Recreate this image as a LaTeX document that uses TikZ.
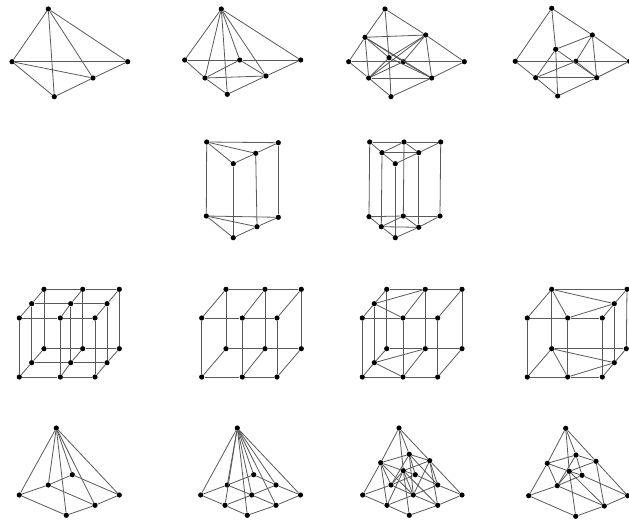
\documentclass[tikz,border=0pt]{standalone}
\tikzset{
  dot/.style={circle,fill=black,draw=none,inner sep=0pt,minimum size=3.9pt},
  edge/.style={line width=0.6pt,color=black!65}
}
\newcommand{\Vx}[3]{\node[dot] (#1) at (#2,#3) {};}
\newcommand{\Ed}[1]{\foreach \p/\q in {#1} {\draw[edge] (\p) -- (\q);}}
\begin{document}
\begin{tikzpicture}[x=0.75pt,y=-0.75pt]
\useasboundingbox (0,0) rectangle (629,521);
% --- row 1, graph 1
\Vx{Aa}{48.3}{9}\Vx{Al}{12}{61.7}\Vx{Ar}{127.7}{61.7}\Vx{Am}{93}{78}\Vx{Ab}{54.3}{96.7}
\Ed{Aa/Al,Aa/Ar,Aa/Am,Aa/Ab,Al/Ar,Al/Am,Al/Ab,Ab/Am,Am/Ar}
% --- row 1, graph 2
\Vx{Ba}{221.3}{9}\Vx{Bl}{184.7}{60}\Vx{Bc}{239.7}{60}\Vx{Br}{300.7}{60}\Vx{Bp}{205}{78}\Vx{Bq}{266}{76}\Vx{Bb}{227.3}{94.3}
\Ed{Ba/Bl,Ba/Bp,Ba/Bb,Ba/Bc,Ba/Bq,Ba/Br,Bl/Bc,Bc/Br,Bl/Bp,Bp/Bc,Bp/Bq,Bp/Bb,Bc/Bq,Bq/Br,Bb/Bq}
% --- row 1, graph 3
\Vx{Ca}{385}{9}\Vx{Cl}{348.7}{61.7}\Vx{Cr}{464.3}{61.7}\Vx{Cu}{365}{37.3}\Vx{Cv}{425.7}{35}\Vx{Cw}{389}{57.7}\Vx{Cc}{403.3}{61.7}\Vx{Cp}{368.7}{78}\Vx{Cq}{431.7}{78}\Vx{Cb}{391}{96.7}
\Ed{Ca/Cu,Ca/Cv,Ca/Cw,Cw/Cb,Cu/Cl,Cu/Cv,Cu/Cp,Cu/Cw,Cu/Cc,Cu/Cq,Cv/Cr,Cv/Cq,Cv/Cw,Cv/Cc,Cv/Cp,Cl/Cc,Cc/Cr,Cl/Cp,Cp/Cb,Cb/Cq,Cq/Cr,Cp/Cq,Cw/Cp,Cw/Cq,Cc/Cp,Cc/Cq}
% --- row 1, graph 4
\Vx{Da}{551.7}{8.3}\Vx{Dl}{515.3}{61.3}\Vx{Dr}{629.5}{61.3}\Vx{Dv}{592.3}{35}\Vx{Dw}{555.7}{49.3}\Vx{Dc}{576}{61.3}\Vx{Dp}{535.7}{77.7}\Vx{Dq}{596.7}{77.7}\Vx{Db}{557.7}{96}
\Ed{Da/Dl,Da/Dv,Da/Dw,Dw/Db,Dv/Dr,Dv/Dw,Dv/Dc,Dv/Dq,Dw/Dp,Dw/Dq,Dc/Dq,Dl/Dc,Dc/Dr,Dl/Dp,Dp/Dc,Dp/Dq,Dp/Db,Db/Dq,Dq/Dr}
% --- row 2, prism 1
\Vx{Ea}{206.7}{142}\Vx{Eb}{278.3}{142.7}\Vx{Ec}{255.7}{153.3}\Vx{Ed}{233.3}{163.7}
\Vx{EA}{206.3}{216}\Vx{EB}{278.3}{217.3}\Vx{EC}{257}{226.7}\Vx{ED}{233.3}{237.7}
\Ed{Ea/Eb,Ea/Ec,Ea/Ed,Ed/Ec,Ec/Eb,EA/EB,EA/EC,EA/ED,ED/EC,EC/EB,Ea/EA,Eb/EB,Ec/EC,Ed/ED}
% --- row 2, prism 2
\Vx{Fa}{369.7}{142}\Vx{Fe}{404}{142}\Vx{Fb}{440.7}{142}\Vx{Ff}{382}{152.7}\Vx{Fg}{418.7}{152.7}\Vx{Fd}{395.3}{163.7}
\Vx{FA}{369}{216.7}\Vx{FE}{403.3}{216}\Vx{FB}{440}{216}\Vx{FF}{381.3}{226.7}\Vx{FG}{418.7}{227.3}\Vx{FD}{395.3}{237.7}
\Ed{Fa/Fe,Fe/Fb,Fa/Ff,Ff/Fe,Fe/Fg,Fg/Fb,Ff/Fg,Ff/Fd,Fd/Fg,FA/FE,FE/FB,FA/FF,FF/FE,FE/FG,FG/FB,FF/FG,FF/FD,FD/FG,Fa/FA,Fe/FE,Fb/FB,Ff/FF,Fg/FG,Fd/FD}
% --- row 3, cube 1
\Vx{G1}{19.3}{318}\Vx{G2}{60.3}{318}\Vx{G3}{95}{318}
\Vx{G4}{31.7}{303.7}\Vx{G5}{70.7}{303.7}\Vx{G6}{107}{303.7}
\Vx{G7}{44}{289.3}\Vx{G8}{82.7}{289.3}\Vx{G9}{119.3}{289.3}
\Vx{Gi}{19.3}{377}\Vx{Gj}{60.3}{377}\Vx{Gk}{95}{377}
\Vx{Gm}{31.7}{362.7}\Vx{Gn}{70.7}{362.7}\Vx{Go}{107}{362.7}
\Vx{Gp}{44}{348.7}\Vx{Gq}{82.7}{348.7}\Vx{Gr}{119.3}{348.7}
\Ed{G1/G2,G2/G3,G4/G5,G5/G6,G7/G8,G8/G9,G1/G4,G4/G7,G2/G5,G5/G8,G3/G6,G6/G9,Gi/Gj,Gj/Gk,Gm/Gn,Gn/Go,Gp/Gq,Gq/Gr,Gi/Gm,Gm/Gp,Gj/Gn,Gn/Gq,Gk/Go,Go/Gr,G1/Gi,G2/Gj,G3/Gk,G4/Gm,G5/Gn,G6/Go,G7/Gp,G8/Gq,G9/Gr}
% --- row 3, cube 2
\Vx{H1}{201.7}{318}\Vx{H2}{242.3}{318}\Vx{H3}{277}{318}\Vx{H4}{226}{289.3}\Vx{H5}{265}{289.3}\Vx{H6}{301.3}{289.3}
\Vx{Hi}{201.7}{377}\Vx{Hj}{242.3}{377}\Vx{Hk}{277}{377}\Vx{Hm}{226}{348.7}\Vx{Hn}{265}{348.7}\Vx{Ho}{301.3}{348.7}
\Ed{H1/H2,H2/H3,H4/H5,H5/H6,H1/H4,H2/H5,H3/H6,Hi/Hj,Hj/Hk,Hm/Hn,Hn/Ho,Hi/Hm,Hj/Hn,Hk/Ho,H1/Hi,H2/Hj,H3/Hk,H4/Hm,H5/Hn,H6/Ho}
% --- row 3, cube 3
\Vx{I1}{362.3}{318}\Vx{I2}{403}{318}\Vx{I3}{437.7}{318}\Vx{I4}{386.7}{289.3}\Vx{I5}{425.3}{289.3}\Vx{I6}{462}{289.3}\Vx{I7}{374.3}{303.7}
\Vx{Ii}{362.3}{377}\Vx{Ij}{403}{377}\Vx{Ik}{437.7}{377}\Vx{Im}{386.7}{348.7}\Vx{In}{425.3}{348.7}\Vx{Io}{462}{348.7}\Vx{Ip}{374.3}{362.7}
\Ed{I1/I2,I2/I3,I4/I5,I5/I6,I1/I7,I7/I4,I7/I5,I7/I2,I2/I5,I3/I6,Ii/Ij,Ij/Ik,Im/In,In/Io,Ii/Ip,Ip/Im,Ip/In,Ip/Ij,Ij/In,Ik/Io,I1/Ii,I2/Ij,I3/Ik,I4/Im,I5/In,I6/Io,I7/Ip}
% --- row 3, cube 4
\Vx{J1}{527.3}{318}\Vx{J2}{567.7}{318}\Vx{J3}{602.3}{318}\Vx{J4}{551.7}{289.3}\Vx{J5}{627}{289.3}\Vx{J6}{614.3}{303.7}
\Vx{Ji}{527.3}{377}\Vx{Jj}{567.7}{377}\Vx{Jk}{602.3}{377}\Vx{Jm}{551.7}{348.7}\Vx{Jn}{626.3}{348.7}\Vx{Jo}{614.3}{362.7}
\Ed{J4/J5,J4/J1,J4/J2,J4/J6,J1/J2,J2/J3,J2/J6,J3/J6,J6/J5,Jm/Jn,Jm/Ji,Jm/Jj,Jm/Jo,Ji/Jj,Jj/Jk,Jj/Jo,Jk/Jo,Jo/Jn,J1/Ji,J2/Jj,J3/Jk,J4/Jm,J5/Jn,J6/Jo}
% --- row 4, pyramid 1
\Vx{La}{56.3}{428}\Vx{Ll}{19.3}{495}\Vx{Lm}{48.3}{485}\Vx{Ln}{72.3}{474.7}\Vx{Lr}{119.3}{495}\Vx{Lq}{95}{505.3}\Vx{Lb}{66.3}{515.3}
\Ed{La/Ll,La/Lm,La/Ln,La/Lr,La/Lq,La/Lb,Ll/Lm,Lm/Ln,Ln/Lr,Ll/Lb,Lb/Lq,Lq/Lr,Lm/Lq}
% --- row 4, pyramid 2
\Vx{Ma}{237.3}{428}\Vx{Ml}{200.7}{495}\Vx{Mp}{227.3}{485}\Vx{Mn}{253.7}{474.7}\Vx{Ms}{276}{485}\Vx{Mr}{300.5}{495}\Vx{Mc}{251.7}{495}\Vx{Mq}{225}{505.3}\Vx{Mt}{276}{505.3}\Vx{Mb}{247.3}{515.3}
\Ed{Ma/Ml,Ma/Mp,Ma/Mn,Ma/Ms,Ma/Mr,Ma/Mc,Ma/Mq,Ma/Mt,Ma/Mb,Ml/Mp,Mp/Mn,Mq/Mc,Mc/Ms,Mb/Mt,Mt/Mr,Ml/Mq,Mq/Mb,Mp/Mc,Mc/Mt,Mn/Ms,Ms/Mr}
% --- row 4, pyramid 3
\Vx{Na}{399}{428}\Vx{Nu}{380.7}{462.7}\Vx{Nv}{409.3}{454.3}\Vx{Nw}{429.7}{460.7}\Vx{Nx}{403.3}{470.7}\Vx{Nn}{415.3}{474.7}\Vx{Np}{391}{485}\Vx{Ns}{437.7}{485}\Vx{Nl}{362.7}{495}\Vx{Nc}{413.3}{495}\Vx{Nr}{462}{495}\Vx{Nq}{387}{505.3}\Vx{Nt}{437.7}{505.3}\Vx{Nb}{409.3}{515.3}
\Ed{Na/Nu,Na/Nv,Na/Nw,Na/Nx,Nu/Nv,Nv/Nw,Nw/Nx,Nx/Nu,Nu/Nl,Nu/Np,Nu/Nc,Nu/Nq,Nv/Np,Nv/Nn,Nv/Nc,Nv/Ns,Nw/Nr,Nw/Ns,Nw/Nt,Nw/Nc,Nx/Nb,Nx/Nq,Nx/Np,Nx/Nc,Nx/Nt,Nx/Nn,Nl/Np,Np/Nn,Nq/Nc,Nc/Ns,Nb/Nt,Nt/Nr,Nl/Nq,Nq/Nb,Np/Nc,Nc/Nt,Nn/Ns,Ns/Nr}
% --- row 4, pyramid 4
\Vx{Oa}{565.7}{428.3}\Vx{Ou}{547.3}{463.3}\Vx{Ov}{576}{455}\Vx{Ow}{596}{461.3}\Vx{Ox}{569.3}{471.3}\Vx{On}{582}{475.3}\Vx{Om}{557.3}{485.7}\Vx{Ol}{528.7}{495.7}\Vx{Or}{627.7}{495.7}\Vx{Oq}{604.3}{506}\Vx{Ob}{575.7}{516.3}
\Ed{Oa/Ou,Oa/Ov,Oa/Ow,Oa/Ox,Ou/Ov,Ov/Ow,Ow/Ox,Ox/Ou,Ou/Ol,Ou/Om,Ov/Om,Ov/On,Ow/Or,Ow/Oq,Ox/Om,Ox/On,Ox/Oq,Ox/Ob,Ol/Om,Om/On,On/Or,Ol/Ob,Ob/Oq,Oq/Or,Om/Oq}
\end{tikzpicture}
\end{document}
